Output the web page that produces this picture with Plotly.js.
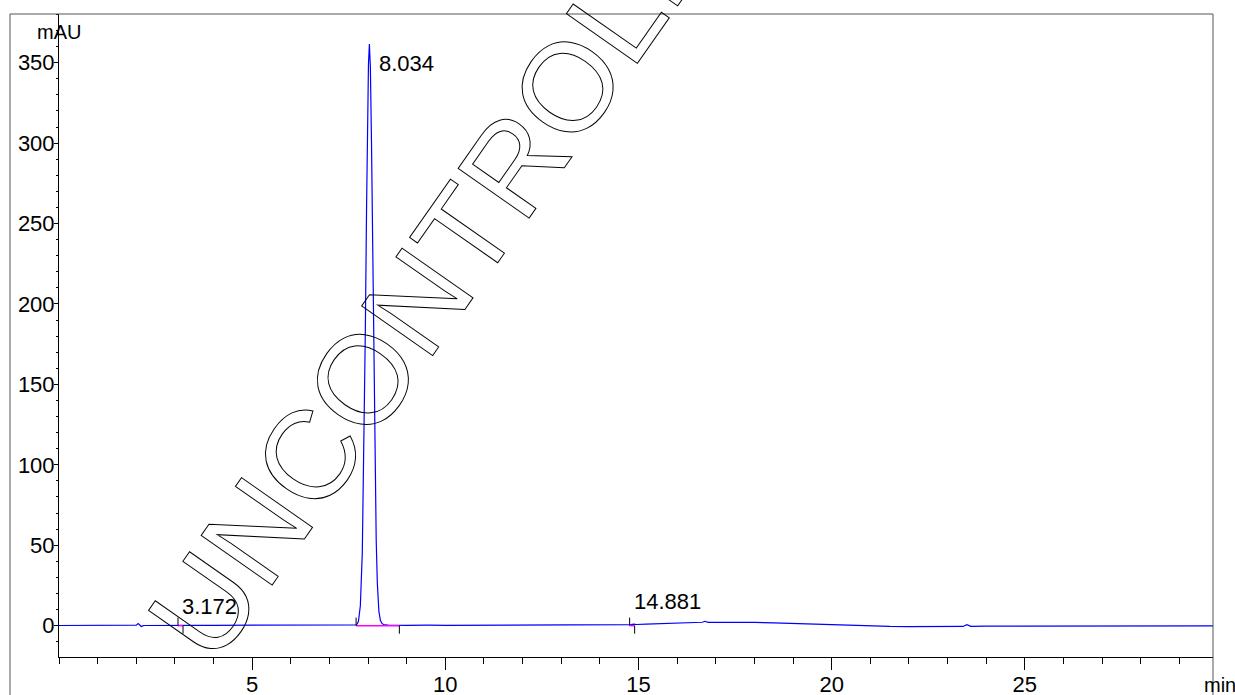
<!DOCTYPE html>
<html>
<head>
<meta charset="utf-8">
<script src="https://cdn.plot.ly/plotly-3.0.1.min.js"></script>
<style>
  html, body { margin: 0; padding: 0; background: #fff; }
  #wrap { position: relative; width: 1235px; height: 695px; overflow: hidden; }
  #chart { position: absolute; left: 0; top: 0; width: 1235px; height: 695px; }
  #wm { position: absolute; left: 0; top: 0; width: 1235px; height: 695px; pointer-events: none; overflow: hidden; }
</style>
</head>
<body>
<div id="wrap">
  <div id="chart"></div>
  <svg id="wm" width="1235" height="695" xmlns="http://www.w3.org/2000/svg">
    <text id="wmtext" x="214" y="668" transform="rotate(-55 214 668)"
      font-family="Liberation Sans, Arial, Helvetica, sans-serif" font-size="126"
      fill="none" stroke="#000" stroke-width="1">UNCONTROLLED</text>
  </svg>
</div>
<script>
// ---- Data ----
const timeMin = [0, 0.5, 1.0, 1.5, 1.9, 2.0, 2.05, 2.09, 2.13, 2.2, 2.5, 3.0, 3.1, 3.17, 3.25, 3.5, 4.0, 5.0, 6.0, 7.0, 7.5, 7.6,
  7.70, 7.75, 7.80, 7.85, 7.90, 7.93, 7.96, 7.99, 8.01, 8.034, 8.06, 8.09, 8.12, 8.15, 8.18, 8.21, 8.24, 8.28, 8.32, 8.36, 8.40, 8.45, 8.55,
  9.0, 9.4, 9.47, 9.55, 10, 11, 12, 13, 14, 14.5, 14.8, 14.88, 14.95, 15.2, 15.5, 16.0, 16.5, 16.65, 16.72, 16.8, 17.0, 17.5, 18.0, 18.5,
  19.0, 19.5, 20.0, 20.5, 21.0, 21.5, 22.0, 22.5, 23.0, 23.4, 23.5, 23.6, 24.0, 25, 26, 27, 28, 29, 29.87];
const signalMAU = [0.1, 0.1, 0.15, 0.2, 0.2, 0.3, 1.3, 0.2, -0.5, 0.1, 0.2, 0.2, 0.3, 0.5, 0.3, 0.2, 0.2, 0.2, 0.2, 0.2, 0.2, 0.25,
  0.5, 2.6, 12.4, 44.8, 119.4, 185.4, 257.9, 320.9, 349, 361.6, 346.8, 297.9, 228.9, 157.6, 97, 53.4, 26.3, 8.9, 3.2, 1.4, 0.7, 0.4, 0.25,
  0.2, 0.3, 0.6, 0.3, 0.2, 0.2, 0.3, 0.3, 0.4, 0.5, 0.6, 0.9, 0.7, 1.0, 1.2, 1.5, 1.8, 2.1, 2.7, 2.0, 2.0, 2.1, 2.0, 1.7,
  1.3, 0.9, 0.4, 0.0, -0.3, -0.5, -0.6, -0.7, -0.6, -0.5, 0.6, -0.4, -0.3, -0.2, -0.1, -0.1, -0.1, -0.1, -0.1];

const peakTimes = [3.172, 8.034, 14.881];
const peakLabels = ["3.172", "8.034", "14.881"];
const peakLabelX = [3.12, 8.22, 14.82];
const peakLabelY = [11.6, 349.5, 15.0];
const baselineStart = [3.08, 7.69, 14.77];
const baselineEnd = [3.21, 8.81, 14.90];
const markLen = 5; // mAU, height of the start/end marks

const yTickVals = [0, 50, 100, 150, 200, 250, 300, 350];
const xTickVals = [5, 10, 15, 20, 25];
const xRange = [0, 29.87];
const yRange = [-19.5, 380.3];

// ---- Traces ----
const traces = [];
traces.push({
  x: timeMin, y: signalMAU, type: 'scatter', mode: 'lines',
  line: { color: '#0000ff', width: 1.2 }, hoverinfo: 'skip', showlegend: false
});
for (let i = 0; i < baselineStart.length; i++) {
  traces.push({
    x: [baselineStart[i], baselineEnd[i]], y: [0, 0], type: 'scatter', mode: 'lines',
    line: { color: '#ff00ff', width: 1.5 }, hoverinfo: 'skip', showlegend: false
  });
  traces.push({
    x: [baselineStart[i], baselineStart[i]], y: [0, markLen], type: 'scatter', mode: 'lines',
    line: { color: '#000000', width: 1 }, hoverinfo: 'skip', showlegend: false
  });
  traces.push({
    x: [baselineEnd[i], baselineEnd[i]], y: [0, -markLen], type: 'scatter', mode: 'lines',
    line: { color: '#000000', width: 1 }, hoverinfo: 'skip', showlegend: false
  });
}

const FONT = 'Liberation Sans, Arial, Helvetica, sans-serif';
const annotations = peakLabels.map((t, i) => ({
  x: peakLabelX[i], y: peakLabelY[i], xref: 'x', yref: 'y', text: t, showarrow: false,
  xanchor: 'left', yanchor: 'middle', font: { family: FONT, size: 22, color: '#000' }
}));
annotations.push({
  x: -0.0208, y: 0.972, xref: 'paper', yref: 'paper', text: 'mAU', showarrow: false,
  xanchor: 'left', yanchor: 'middle', font: { family: FONT, size: 20, color: '#000' }
});
annotations.push({
  x: 0.9905, y: -0.043, xref: 'paper', yref: 'paper', text: 'min', showarrow: false,
  xanchor: 'left', yanchor: 'middle', font: { family: FONT, size: 20, color: '#000' }
});

const layout = {
  width: 1235, height: 695,
  margin: { l: 59, r: 22, t: 14, b: 38, pad: 0 },
  paper_bgcolor: '#ffffff', plot_bgcolor: '#ffffff',
  font: { family: FONT, size: 22, color: '#000' },
  showlegend: false,
  xaxis: {
    range: xRange, showgrid: false, zeroline: false, showline: true, linecolor: '#000', linewidth: 1,
    ticks: 'outside', ticklen: 12, tickwidth: 1, tickcolor: '#000', ticklabelstandoff: -4,
    tickmode: 'array', tickvals: xTickVals, ticktext: xTickVals.map(String),
    tickfont: { family: FONT, size: 22, color: '#000' },
    minor: { dtick: 1, tick0: 0, ticks: 'outside', ticklen: 6, tickwidth: 1, tickcolor: '#000', showgrid: false },
    fixedrange: true
  },
  yaxis: {
    range: yRange, showgrid: false, zeroline: false, showline: true, linecolor: '#000', linewidth: 1,
    ticks: 'outside', ticklen: 4, tickwidth: 1, tickcolor: '#000', ticklabelstandoff: -5,
    tickmode: 'array', tickvals: yTickVals, ticktext: yTickVals.map(String),
    tickfont: { family: FONT, size: 22, color: '#000' },
    minor: { dtick: 10, tick0: 0, ticks: 'outside', ticklen: 2, tickwidth: 1, tickcolor: '#000', showgrid: false },
    fixedrange: true
  },
  shapes: [{
    type: 'rect', xref: 'paper', yref: 'paper', x0: -0.04246, x1: 1.0, y0: -0.07, y1: 1.0,
    line: { color: '#555', width: 1 }, fillcolor: 'rgba(0,0,0,0)', layer: 'above'
  }],
  annotations: annotations
};

Plotly.newPlot('chart', traces, layout, { displayModeBar: false, staticPlot: true });
</script>
</body>
</html>
